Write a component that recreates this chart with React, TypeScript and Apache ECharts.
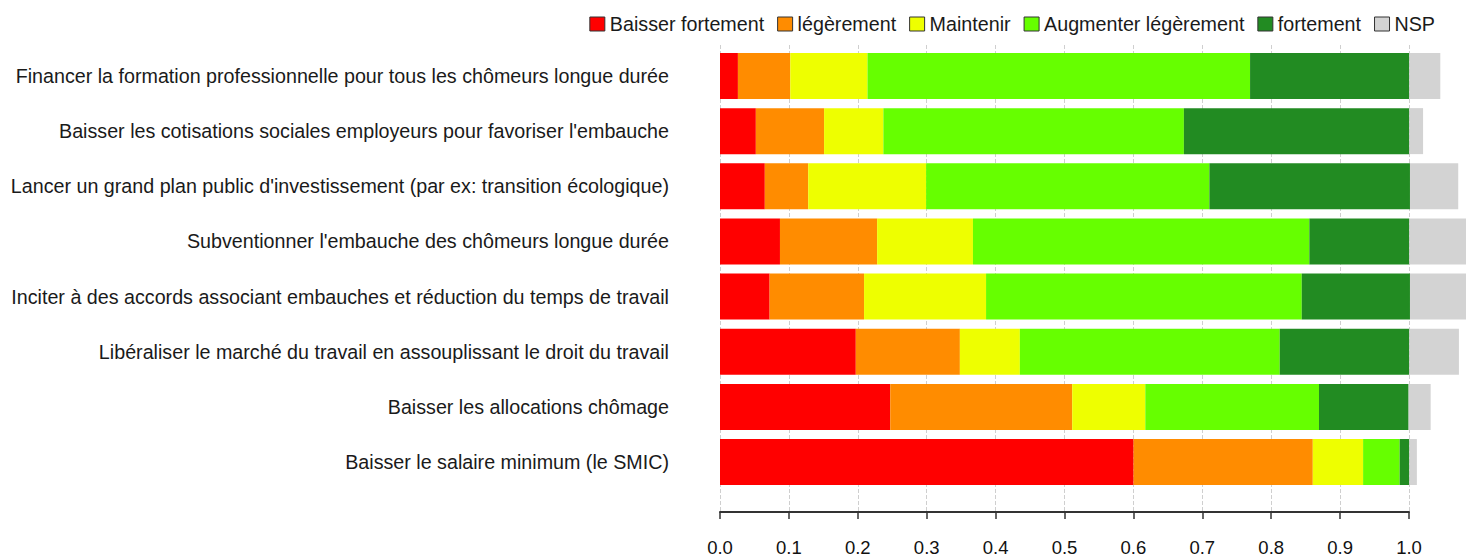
import React, { useEffect, useRef } from "react";
import * as echarts from "echarts";

const categories = [
  "Financer la formation professionnelle pour tous les chômeurs longue durée",
  "Baisser les cotisations sociales employeurs pour favoriser l'embauche",
  "Lancer un grand plan public d'investissement (par ex: transition écologique)",
  "Subventionner l'embauche des chômeurs longue durée",
  "Inciter à des accords associant embauches et réduction du temps de travail",
  "Libéraliser le marché du travail en assouplissant le droit du travail",
  "Baisser les allocations chômage",
  "Baisser le salaire minimum (le SMIC)",
];

const seriesNames = [
  "Baisser fortement",
  "légèrement",
  "Maintenir",
  "Augmenter légèrement",
  "fortement",
  "NSP",
];

const seriesColors = ["#FF0000", "#FF8C00", "#EEFF00", "#66FF00", "#228B22", "#D3D3D3"];

const baisserFortement = [0.026, 0.052, 0.065, 0.087, 0.072, 0.197, 0.247, 0.6];
const baisserLegerement = [0.076, 0.099, 0.063, 0.141, 0.137, 0.151, 0.264, 0.26];
const maintenir = [0.112, 0.086, 0.171, 0.139, 0.177, 0.087, 0.106, 0.073];
const augmenterLegerement = [0.555, 0.436, 0.411, 0.488, 0.458, 0.377, 0.252, 0.053];
const augmenterFortement = [0.231, 0.327, 0.291, 0.145, 0.157, 0.188, 0.13, 0.014];
const nsp = [0.045, 0.02, 0.07, 0.09, 0.09, 0.072, 0.032, 0.011];

const seriesValues = [
  baisserFortement,
  baisserLegerement,
  maintenir,
  augmenterLegerement,
  augmenterFortement,
  nsp,
];

const axisMin = 0;
const axisMax = 1;
const axisInterval = 0.1;
const barAxisMax = 1.12;

const FONT = "'Liberation Sans', Arial, Helvetica, sans-serif";
const CANVAS_W = 1466 + 26;

export default function App() {
  const ref = useRef<HTMLDivElement>(null);
  useEffect(() => {
    const chart = echarts.init(ref.current!, null, { renderer: "svg" });
    chart.setOption({
      animation: false,
      textStyle: { fontFamily: FONT },
      legend: {
        data: seriesNames,
        right: 52,
        top: 9,
        itemWidth: 15,
        itemHeight: 14,
        itemGap: 13,
        icon: "rect",
        itemStyle: { borderColor: "#333", borderWidth: 1 },
        textStyle: { fontSize: 19.7, color: "#1a1a1a", fontFamily: FONT },
      },
      grid: [
        { left: 720, right: 0, top: 48.4, height: 441.2 },
        { left: 720, width: 689, top: 45, height: 467 },
      ],
      xAxis: [
        { gridIndex: 0, type: "value", min: axisMin, max: barAxisMax, show: false },
        {
          gridIndex: 1,
          type: "value",
          min: axisMin,
          max: axisMax,
          interval: axisInterval,
          axisLine: { show: true, lineStyle: { color: "#333", width: 2 } },
          axisTick: { show: true, length: 7, lineStyle: { color: "#333", width: 1.5 } },
          axisLabel: {
            formatter: (v: number) => v.toFixed(1),
            fontSize: 18.5,
            margin: 26,
            color: "#111",
            fontFamily: FONT,
          },
          splitLine: { show: true, lineStyle: { type: "dashed", color: "#cfcfcf", width: 1 } },
        },
      ],
      yAxis: [
        {
          gridIndex: 0,
          type: "category",
          data: categories,
          inverse: true,
          axisLine: { show: false },
          axisTick: { show: false },
          axisLabel: { margin: 51, fontSize: 19.7, color: "#1a1a1a", fontFamily: FONT },
        },
        { gridIndex: 1, type: "value", min: 0, max: 1, show: false },
      ],
      series: seriesNames.map((name, i) => ({
        name,
        type: "bar",
        stack: "total",
        xAxisIndex: 0,
        yAxisIndex: 0,
        barWidth: 46,
        data: seriesValues[i],
        itemStyle: { color: seriesColors[i] },
        emphasis: { disabled: true },
      })),
    });
    return () => chart.dispose();
  }, []);
  return (
    <div
      style={{
        position: "fixed",
        left: 0,
        top: 0,
        width: 1466,
        height: 557,
        overflow: "hidden",
        background: "#fff",
      }}
    >
      <div ref={ref} style={{ width: CANVAS_W, height: 557 }} />
    </div>
  );
}
